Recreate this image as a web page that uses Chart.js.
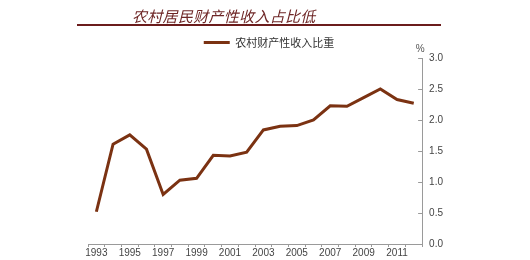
<!DOCTYPE html>
<html><head><meta charset="utf-8">
<script src="https://cdn.jsdelivr.net/npm/chart.js@4"></script>
<style>
html,body{margin:0;padding:0;background:#fff;}
#wrap{position:relative;width:530px;height:260px;}
#title{position:absolute;left:77px;top:4px;width:364px;height:20px;border-bottom:2px solid #6b1c1c;}
#title span{position:absolute;left:55px;top:1px;font:italic 15px "Noto Sans CJK SC",serif;color:#6e2626;letter-spacing:0.3px;white-space:nowrap;}
canvas{position:absolute;left:0;top:0;}
</style></head>
<body><div id="wrap"><canvas id="c" width="530" height="260"></canvas>
<div id="title"><span>农村居民财产性收入占比低</span></div></div>
<script>
const titleText = "农村居民财产性收入占比低";
const seriesName = "农村财产性收入比重";
const years = ["1993","1994","1995","1996","1997","1998","1999","2000","2001","2002","2003","2004","2005","2006","2007","2008","2009","2010","2011","2012"];
const shares = [0.52,1.61,1.76,1.53,0.80,1.03,1.06,1.43,1.42,1.48,1.84,1.90,1.91,2.00,2.23,2.22,2.36,2.50,2.33,2.27];
const yTicks = [0,0.5,1,1.5,2,2.5,3];
const unitLabel = "%";

const lineColor = "#7b3212";
const extras = {
  id: "extras",
  afterDraw(chart) {
    const ctx = chart.ctx, y = chart.scales.y, a = chart.chartArea;
    ctx.save();
    ctx.strokeStyle = "#9a9a9a"; ctx.lineWidth = 1;
    yTicks.forEach(v => {
      const py = Math.round(y.getPixelForValue(v)) + 0.5;
      ctx.beginPath(); ctx.moveTo(a.right - 4, py); ctx.lineTo(a.right, py); ctx.stroke();
    });
    ctx.fillStyle = "#555"; ctx.font = "10px Arial, 'Liberation Sans'";
    ctx.textAlign = "center"; ctx.textBaseline = "middle";
    ctx.fillText(unitLabel, a.right - 2, a.top - 9);
    ctx.restore();
  }
};

new Chart(document.getElementById("c"), {
  type: "line",
  data: { labels: years, datasets: [{ label: seriesName, data: shares, borderColor: lineColor, backgroundColor: lineColor, borderWidth: 3, pointRadius: 0, tension: 0 }] },
  options: {
    responsive: false, animation: false,
    layout: { padding: { left: 88, right: 80, top: 34, bottom: 1 } },
    plugins: {
      legend: { display: true, position: "top",
        labels: { usePointStyle: true, pointStyle: "line", pointStyleWidth: 26, boxHeight: 11, padding: 3,
          color: "#333", font: { family: "'Noto Sans CJK SC', sans-serif", size: 11 } } },
      tooltip: { enabled: false }
    },
    scales: {
      x: { type: "category", offset: true,
        grid: { offset: true, drawOnChartArea: false, tickLength: 3, color: "#9a9a9a" },
        border: { color: "#9a9a9a" },
        ticks: { autoSkip: false, maxRotation: 0, padding: 0, color: "#444", font: { family: "Arial, 'Liberation Sans'", size: 10 },
          callback: function(v, i) { return i % 2 === 0 ? this.getLabelForValue(v) : ""; } } },
      y: { position: "right", min: 0, max: 3,
        afterBuildTicks: s => { s.ticks = yTicks.map(v => ({ value: v })); },
        grid: { drawOnChartArea: false, drawTicks: false },
        border: { color: "#9a9a9a" },
        ticks: { padding: 7, color: "#444", font: { family: "Arial, 'Liberation Sans'", size: 10 },
          callback: v => v.toFixed(1) } }
    }
  },
  plugins: [extras]
});
</script></body></html>
